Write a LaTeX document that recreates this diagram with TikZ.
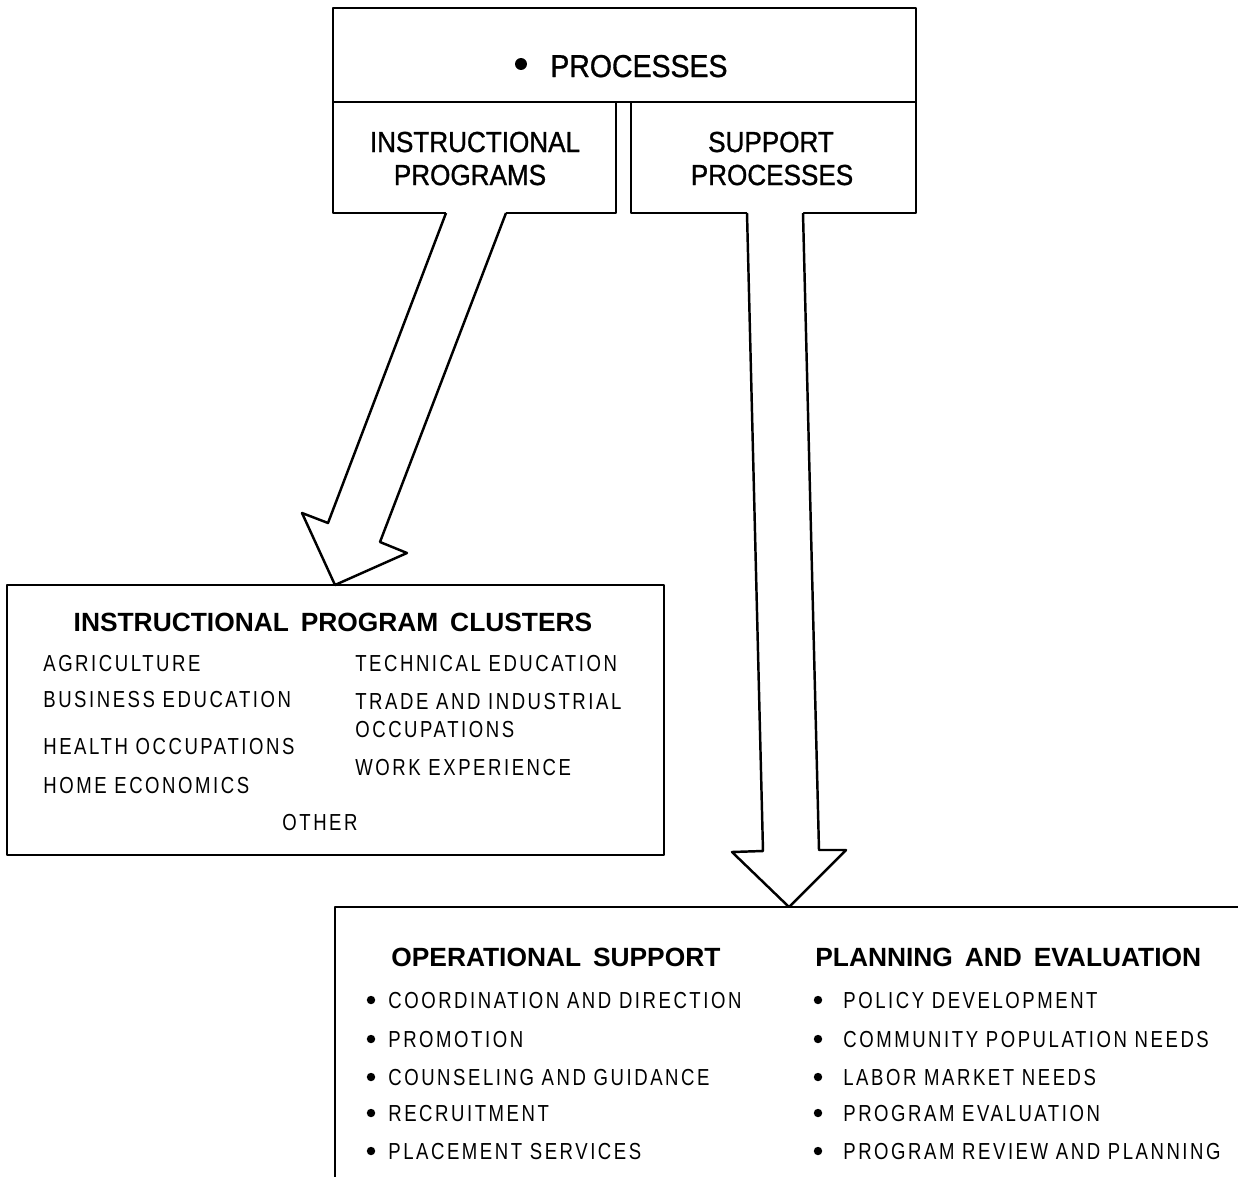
\documentclass[tikz,border=0pt]{standalone}
\usepackage{fontspec}
\setmainfont{Liberation Sans}
\newfontfamily\itemfamily{Liberation Sans}[FakeStretch=0.8,LetterSpace=11]
\newfontfamily\subfamily{Liberation Sans}[FakeStretch=0.9,FakeBold=1]
\begin{document}
\begin{tikzpicture}[x=0.02cm,y=-0.02cm,
  outline/.style={draw=black,line width=1.4pt,line join=round},
  box/.style={outline,fill=white,inner sep=0,minimum width=#1},
  itemtext/.style={font=\itemfamily\fontsize{13.2}{15}\selectfont,anchor=base west,inner sep=0},
  headtext/.style={font=\bfseries\fontsize{15}{18}\selectfont,anchor=base west,inner sep=0},
  subtext/.style={font=\subfamily\fontsize{16.5}{20}\selectfont,anchor=base,inner sep=0},
  titletext/.style={font=\subfamily\fontsize{18}{22}\selectfont,anchor=base west,inner sep=0},
  dot/.style={fill=black}]
\useasboundingbox (0,0) rectangle (1238,1177);

% ---- top block: processes and its two branches
\node[box=11.66cm,minimum height=1.88cm] (proc) at (624.5,55) {};
\node[box=5.66cm,minimum height=2.22cm] (instr) at (474.5,157.5) {};
\node[box=5.70cm,minimum height=2.22cm] (supp) at (773.5,157.5) {};

\fill[dot] (521,64) circle (3.4pt);
\node[titletext] (proctitle) at (550,77) {PROCESSES};
\node[subtext] (instrA) at (475,152) {INSTRUCTIONAL};
\node[subtext] (instrB) at (470,185) {PROGRAMS};
\node[subtext] (suppA) at (771,152) {SUPPORT};
\node[subtext] (suppB) at (772,185) {PROCESSES};

% ---- instructional program clusters
\node[box=13.14cm,minimum height=5.4cm] (clusters) at (335.5,720) {};
\node[headtext,anchor=base] (clTitle) at (333,631)
  {INSTRUCTIONAL\hspace{0.45em}PROGRAM\hspace{0.45em}CLUSTERS};
\node[itemtext] (agr) at (43,671) {AGRICULTURE};
\node[itemtext] (bus) at (43,707) {BUSINESS EDUCATION};
\node[itemtext] (hea) at (43,754) {HEALTH OCCUPATIONS};
\node[itemtext] (hom) at (43,793) {HOME ECONOMICS};
\node[itemtext] (tec) at (355,671) {TECHNICAL EDUCATION};
\node[itemtext] (traA) at (355,709) {TRADE AND INDUSTRIAL};
\node[itemtext] (traB) at (355,737) {OCCUPATIONS};
\node[itemtext] (wor) at (355,775) {WORK EXPERIENCE};
\node[itemtext,anchor=base] (oth) at (320,830) {OTHER};

% ---- support processes (open frame running off the page)
\coordinate (sbBottom) at (335,1180);
\coordinate (sbCorner) at (335,907);
\coordinate (sbRight) at (1240,907);
\draw[outline] (sbBottom) -- (sbCorner) -- (sbRight);

\node[headtext] (opTitle) at (391,966) {OPERATIONAL\hspace{0.45em}SUPPORT};
\node[headtext] (plTitle) at (815,966) {PLANNING\hspace{0.45em}AND\hspace{0.45em}EVALUATION};

\foreach \y/\n/\t in {1008/opA/COORDINATION AND DIRECTION,
                      1047/opB/PROMOTION,
                      1085/opC/COUNSELING AND GUIDANCE,
                      1121/opD/RECRUITMENT,
                      1159/opE/PLACEMENT SERVICES}{
  \fill[dot] (371,\y-8) circle (2.4pt);
  \node[itemtext] (\n) at (388,\y) {\t};
}
\foreach \y/\n/\t in {1008/plA/POLICY DEVELOPMENT,
                      1047/plB/COMMUNITY POPULATION NEEDS,
                      1085/plC/LABOR MARKET NEEDS,
                      1121/plD/PROGRAM EVALUATION,
                      1159/plE/PROGRAM REVIEW AND PLANNING}{
  \fill[dot] (818,\y-8) circle (2.4pt);
  \node[itemtext] (\n) at (843,\y) {\t};
}

% ---- broad arrow: instructional programs -> clusters
\coordinate (laTL) at (446,213);
\coordinate (laTR) at (506,213);
\coordinate (laIL) at (328,523);
\coordinate (laOL) at (302,513);
\coordinate (laTip) at (335,585);
\coordinate (laOR) at (407,553);
\coordinate (laIR) at (380,542);
\fill[white] (448,205) -- (laTL) -- (laIL) -- (laOL) -- (laTip) -- (laOR) -- (laIR) -- (laTR) -- (504,205) -- cycle;
\draw[outline] (laTL) -- (laIL) -- (laOL) -- (laTip) -- (laOR) -- (laIR) -- (laTR);

% ---- broad arrow: support processes -> support frame
\coordinate (raTL) at (747,213);
\coordinate (raTR) at (803,213);
\coordinate (raIL) at (763,851);
\coordinate (raOL) at (732,852);
\coordinate (raTip) at (789,907);
\coordinate (raOR) at (846,850);
\coordinate (raIR) at (819,850);
\fill[white] (747,205) -- (raTL) -- (raIL) -- (raOL) -- (raTip) -- (raOR) -- (raIR) -- (raTR) -- (803,205) -- cycle;
\draw[outline] (raTL) -- (raIL) -- (raOL) -- (raTip) -- (raOR) -- (raIR) -- (raTR);
\end{tikzpicture}
\end{document}
